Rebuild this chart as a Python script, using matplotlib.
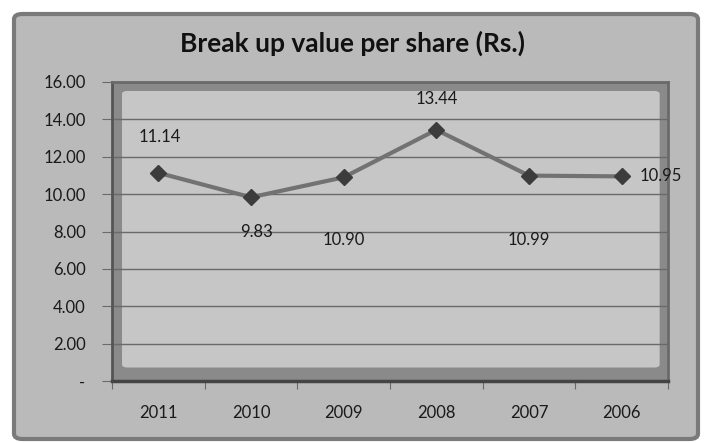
import matplotlib
matplotlib.use("Agg")
from matplotlib import pyplot as plt
from matplotlib.patches import FancyBboxPatch

years = ["2011", "2010", "2009", "2008", "2007", "2006"]
values = [11.14, 9.83, 10.90, 13.44, 10.99, 10.95]
# label offsets (points) relative to each marker
label_dx = [1, 4, 0, 0, 0, 13]
label_dy = [26, -25, -45, 22, -46, 0]
label_ha = ["center", "center", "center", "center", "center", "left"]
y_ticks = [0, 2, 4, 6, 8, 10, 12, 14, 16]
y_labels = ["-", "2.00", "4.00", "6.00", "8.00", "10.00", "12.00", "14.00", "16.00"]

plt.rcParams["font.family"] = ["Lato", "DejaVu Sans"]

fig = plt.figure(figsize=(7.04, 4.43), dpi=100)
fig.patch.set_facecolor("#ffffff")

# chart area with rounded border
frame = FancyBboxPatch((14 / 704, 4 / 443), 684 / 704, 425 / 443,
                       boxstyle="round,pad=0,rounding_size=0.012",
                       transform=fig.transFigure, facecolor="#bababa",
                       edgecolor="#7a7a7a", linewidth=3, zorder=0)
fig.patches.append(frame)

ax = fig.add_axes([112 / 704, 1 - 381 / 443, 556 / 704, 299 / 443])
ax.set_zorder(2)
ax.set_facecolor("#8a8a8a")
inner = FancyBboxPatch((0.018, 0.045), 0.967, 0.925,
                       boxstyle="round,pad=0,rounding_size=0.01",
                       transform=ax.transAxes, facecolor="#c6c6c6",
                       edgecolor="none", zorder=0.5)
ax.add_patch(inner)

x = list(range(len(years)))
ax.plot(x, values, color="#727272", linewidth=3, zorder=3)
ax.plot(x, values, linestyle="none", marker="D", markersize=8,
        color="#3c3c3c", zorder=4)

for xi, v, dx, dy, ha in zip(x, values, label_dx, label_dy, label_ha):
    ax.annotate(f"{v:.2f}", (xi, v), xytext=(dx, dy), textcoords="offset points",
                ha=ha, va="center", fontsize=12, color="#1a1a1a", zorder=5,
                annotation_clip=False)

ax.set_xlim(-0.5, len(years) - 0.5)
ax.set_ylim(0, 16)
ax.set_yticks(y_ticks)
ax.set_yticklabels(y_labels, fontsize=12, color="#1a1a1a")
ax.grid(axis="y", color="#6a6a6a", linewidth=1)
for line in ax.get_ygridlines():
    line.set_zorder(1)

ax.set_xticks([i - 0.5 for i in range(len(years) + 1)], minor=False)
ax.set_xticklabels([])
ax.set_xticks(x, minor=True)
ax.set_xticklabels(years, minor=True, fontsize=12, color="#1a1a1a")
ax.tick_params(axis="x", which="minor", length=0, pad=17)
ax.tick_params(axis="x", which="major", length=6, color="#6a6a6a")
ax.tick_params(axis="y", length=7, color="#6a6a6a", pad=12)

for side in ["top", "right"]:
    ax.spines[side].set_color("#6a6a6a")
    ax.spines[side].set_linewidth(2)
ax.spines["left"].set_color("#555555")
ax.spines["left"].set_linewidth(2)
ax.spines["bottom"].set_color("#444444")
ax.spines["bottom"].set_linewidth(2.5)

fig.text(0.5, 1 - 43 / 443, "Break up value per share (Rs.)", ha="center",
         va="center", fontsize=19, fontweight="bold", color="#111111")

fig.savefig("out.png", dpi=100, facecolor=fig.get_facecolor())
